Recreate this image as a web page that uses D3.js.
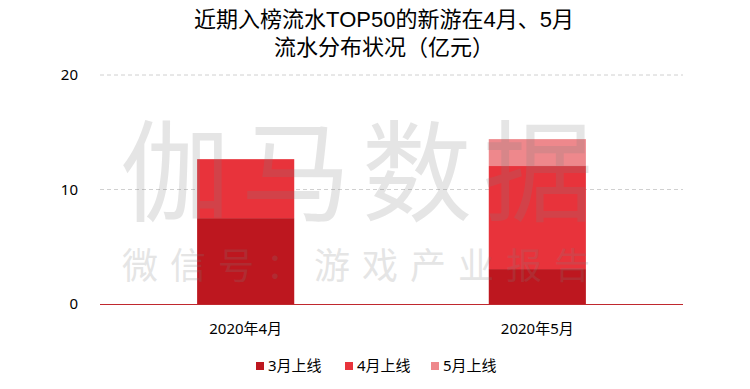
<!DOCTYPE html>
<html><head><meta charset="utf-8">
<script src="https://cdn.jsdelivr.net/npm/d3@7"></script>
<style>body{margin:0;background:#fff}svg{display:block}text{font-family:"Liberation Sans","Noto Sans CJK SC",sans-serif}</style>
</head><body><svg id="c" width="750" height="389"></svg>
<script>
const categories = ["2020年4月", "2020年5月"];
const seriesNames = ["3月上线", "4月上线", "5月上线"];
const s3 = [7.5, 3.05];
const s4 = [5.15, 9.0];
const s5 = [0, 2.35];
const yTicks = [0, 10, 20];
const colors = ["#BD171F", "#E8333B", "#EE888C"];
const titleLines = ["近期入榜流水TOP50的新游在4月、5月", "流水分布状况（亿元）"];
const watermarkLines = ["伽马数据", "微信号：游戏产业报告"];

const svg = d3.select("#c");
const m = {l: 100, r: 683, t: 75, b: 304};
const x = d3.scaleBand().domain(categories).range([m.l, m.r]).paddingInner(0.667).paddingOuter(0.333);
const y = d3.scaleLinear().domain([0, 20]).range([m.b, m.t]);

const table = categories.map((c, i) => ({cat: c, "3月上线": s3[i], "4月上线": s4[i], "5月上线": s5[i]}));
const stack = d3.stack().keys(seriesNames)(table);

// gridlines
svg.append("g").selectAll("line").data(yTicks.filter(d => d > 0)).join("line")
  .attr("x1", m.l).attr("x2", m.r).attr("y1", d => y(d)).attr("y2", d => y(d))
  .attr("stroke", "#d0d0d0").attr("stroke-dasharray", "4,3").attr("stroke-width", 1);

// y axis labels
const yAxis = svg.append("g").attr("transform", `translate(${m.l},0)`)
  .call(d3.axisLeft(y).tickValues(yTicks).tickSize(0).tickPadding(22));
yAxis.select(".domain").remove();
yAxis.selectAll("text").attr("font-size", 15).attr("fill", "#000")
  .style("font-family", '"Noto Sans","Noto Sans CJK SC",sans-serif');

// bars
svg.append("g").selectAll("g").data(stack).join("g").attr("fill", (d, i) => colors[i])
  .selectAll("rect").data(d => d).join("rect")
  .attr("x", d => x(d.data.cat)).attr("width", x.bandwidth())
  .attr("y", d => y(d[1])).attr("height", d => y(d[0]) - y(d[1]));

// x axis
const xAxis = svg.append("g").attr("transform", `translate(0,${m.b})`)
  .call(d3.axisBottom(x).tickSize(0).tickPadding(19));
xAxis.select(".domain").attr("stroke", "#C0282E").attr("d", `M${m.l},0.5H${m.r}`);
xAxis.selectAll("text").attr("font-size", 15).attr("fill", "#000")
  .style("font-family", '"Noto Sans","Noto Sans CJK SC",sans-serif');

// watermark
const wm = svg.append("g").attr("fill", "#808080").attr("opacity", 0.2).attr("text-anchor", "middle");
wm.append("text").attr("x", 362).attr("y", 213).attr("font-size", 110).attr("letter-spacing", 11).text(watermarkLines[0]);
wm.append("text").attr("x", 362).attr("y", 279).attr("font-size", 36).attr("letter-spacing", 12).text(watermarkLines[1]);

// title
svg.append("g").selectAll("text").data(titleLines).join("text")
  .attr("x", 384).attr("y", (d, i) => 27 + i * 28).attr("text-anchor", "middle")
  .attr("font-size", 22).attr("fill", "#000").text(d => d);

// legend
const lg = svg.append("g");
const lx = [256, 345, 431];
seriesNames.forEach((n, i) => {
  lg.append("rect").attr("x", lx[i]).attr("y", 362).attr("width", 8).attr("height", 8).attr("fill", colors[i]);
  lg.append("text").attr("x", lx[i] + 12).attr("y", 371).attr("font-size", 15).attr("fill", "#000")
    .style("font-family", '"Noto Sans","Noto Sans CJK SC",sans-serif').text(n);
});
</script></body></html>
